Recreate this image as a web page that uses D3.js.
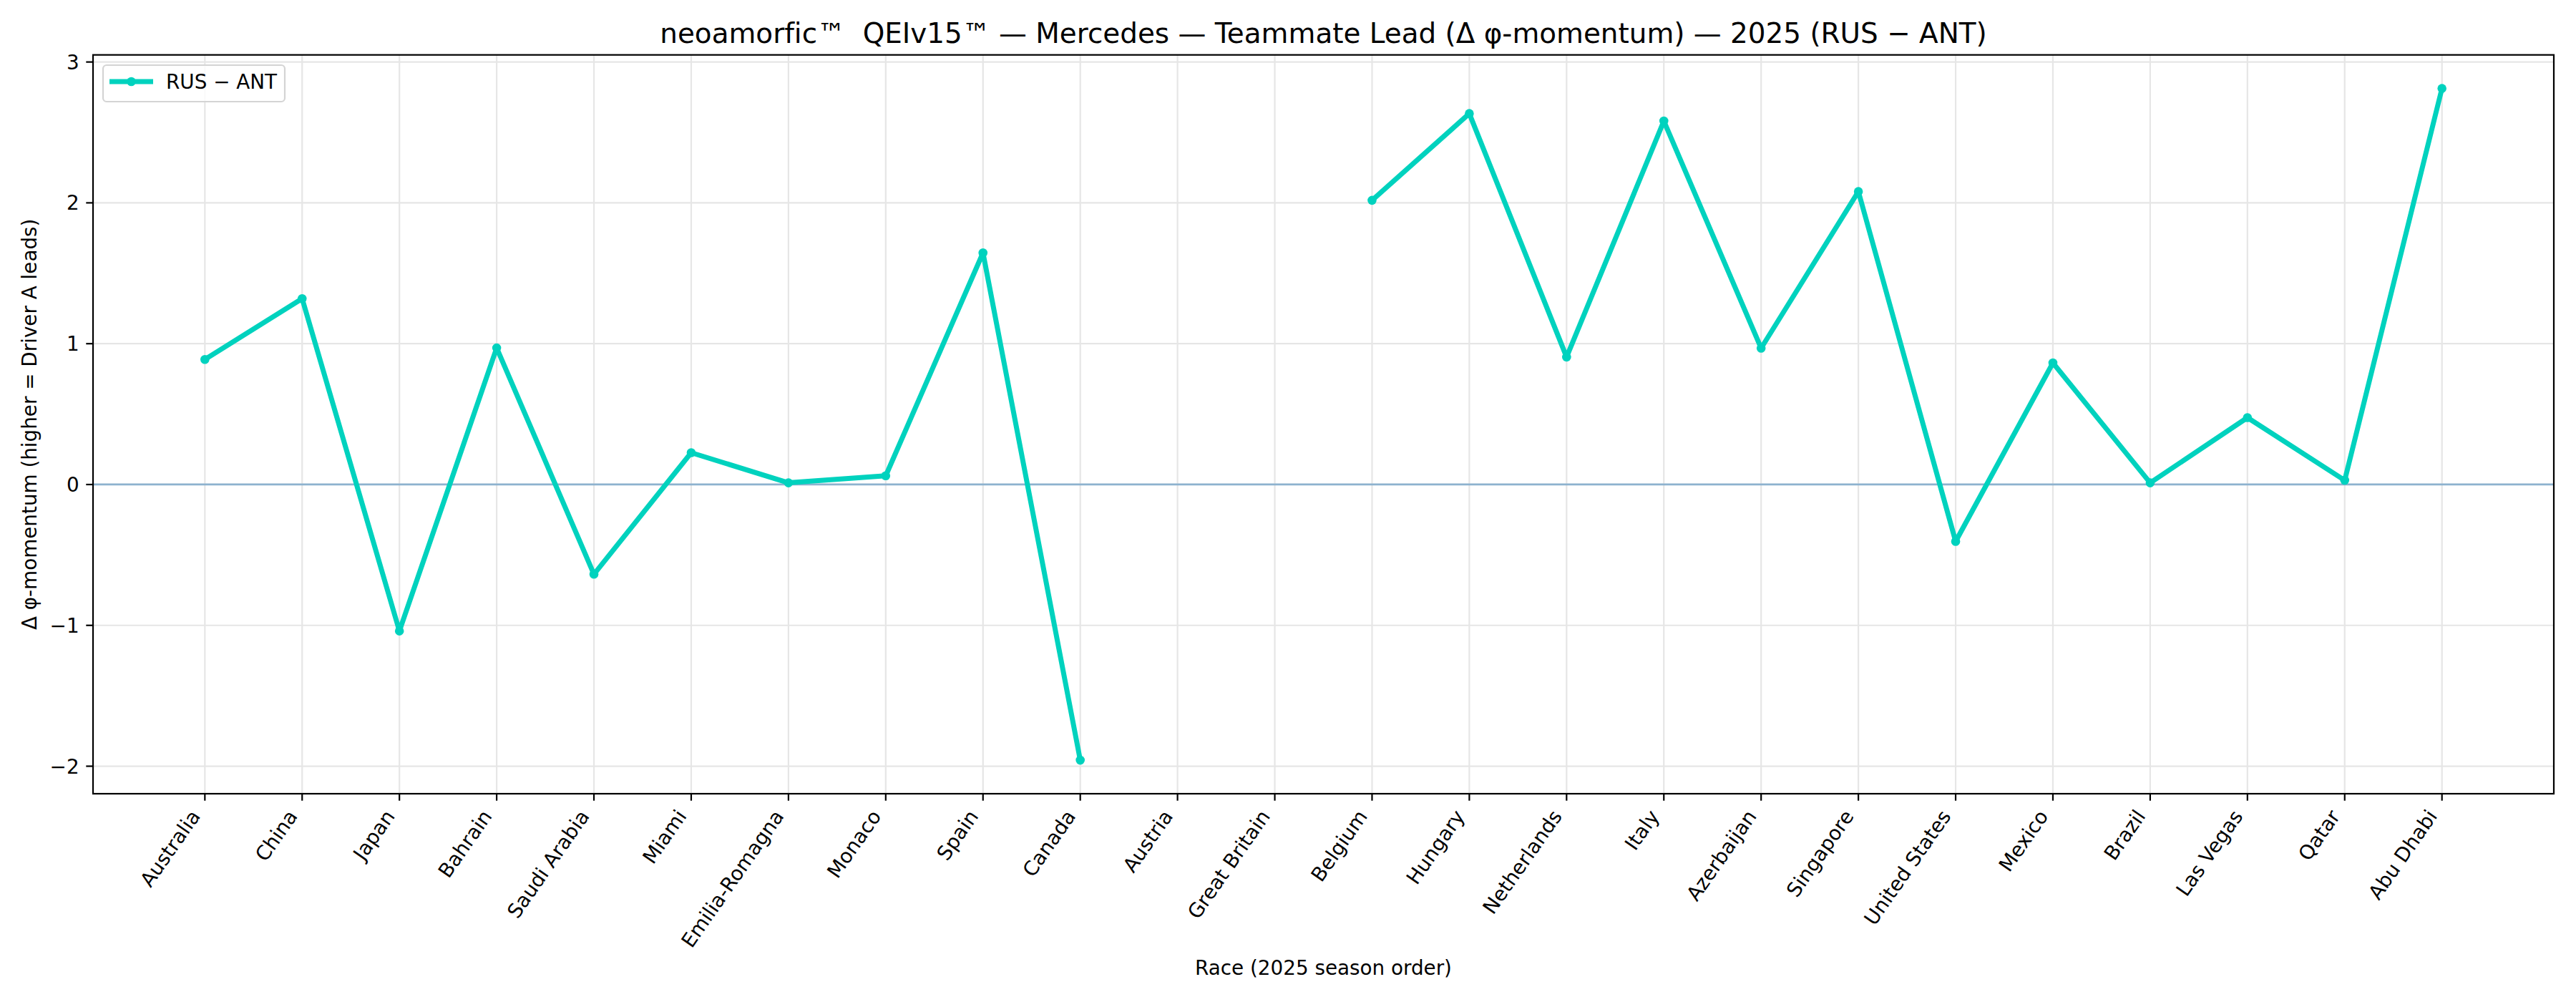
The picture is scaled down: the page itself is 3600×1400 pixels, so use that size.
<!DOCTYPE html>
<html>
<head>
<meta charset="utf-8">
<script src="https://cdn.jsdelivr.net/npm/d3@7"></script>
<style>
  html, body { margin: 0; padding: 0; background: #ffffff; }
  svg { display: block; font-family: "DejaVu Sans", sans-serif; font-variant-ligatures: none; }
  text { white-space: pre; }
</style>
</head>
<body>
<svg id="chart" width="3600" height="1400"></svg>
<script>
const races = ["Australia","China","Japan","Bahrain","Saudi Arabia","Miami","Emilia-Romagna","Monaco","Spain","Canada","Austria","Great Britain","Belgium","Hungary","Netherlands","Italy","Azerbaijan","Singapore","United States","Mexico","Brazil","Las Vegas","Qatar","Abu Dhabi"];
const deltaRusAnt = [0.888,1.320,-1.040,0.970,-0.637,0.226,0.012,0.062,1.645,-1.957,null,null,2.018,2.634,0.905,2.581,0.968,2.080,-0.404,0.864,0.012,0.475,0.030,2.812];
const yTicks = [-2,-1,0,1,2,3];
const seriesName = "RUS \u2212 ANT";
const titleText = "neoamorfic\u2122  QEIv15\u2122 \u2014 Mercedes \u2014 Teammate Lead (\u0394 \u03c6-momentum) \u2014 2025 (RUS \u2212 ANT)";
const xLabel = "Race (2025 season order)";
const yLabel = "\u0394 \u03c6-momentum (higher = Driver A leads)";

const W = 3600, H = 1400;
const plot = {left: 130, right: 3569, top: 76.7, bottom: 1109};
const color = "#00d2be";
const fs = 27.8;

const svg = d3.select("#chart");
svg.append("rect").attr("width", W).attr("height", H).attr("fill", "#fff");

const n = races.length;
const xMargin = (n - 1) * 0.05;
const x = d3.scaleLinear().domain([-xMargin, n - 1 + xMargin]).range([plot.left, plot.right]);
const vals = deltaRusAnt.filter(v => v != null);
const yMin = d3.min(vals), yMax = d3.max(vals);
const yPad = (yMax - yMin) * 0.05;
const y = d3.scaleLinear().domain([yMin - yPad, yMax + yPad]).range([plot.bottom, plot.top]);

const g = svg.append("g");

// grid
g.append("g").selectAll("line").data(d3.range(n)).join("line")
  .attr("x1", d => x(d)).attr("x2", d => x(d))
  .attr("y1", plot.top).attr("y2", plot.bottom)
  .attr("stroke", "#e6e6e6").attr("stroke-width", 2.2);
g.append("g").selectAll("line").data(yTicks).join("line")
  .attr("x1", plot.left).attr("x2", plot.right)
  .attr("y1", d => y(d)).attr("y2", d => y(d))
  .attr("stroke", "#e6e6e6").attr("stroke-width", 2.2);

// zero line
g.append("line")
  .attr("x1", plot.left).attr("x2", plot.right)
  .attr("y1", y(0)).attr("y2", y(0))
  .attr("stroke", "#8db2cf").attr("stroke-width", 2.8);

// data line
const line = d3.line()
  .defined(d => d.v != null)
  .x(d => x(d.i)).y(d => y(d.v));
const pts = deltaRusAnt.map((v, i) => ({i, v}));
g.append("path").datum(pts)
  .attr("d", line)
  .attr("fill", "none").attr("stroke", color)
  .attr("stroke-width", 7).attr("stroke-linejoin", "round").attr("stroke-linecap", "square");
g.append("g").selectAll("circle").data(pts.filter(d => d.v != null)).join("circle")
  .attr("cx", d => x(d.i)).attr("cy", d => y(d.v)).attr("r", 6.3).attr("fill", color);

// spines
g.append("rect")
  .attr("x", plot.left).attr("y", plot.top)
  .attr("width", plot.right - plot.left).attr("height", plot.bottom - plot.top)
  .attr("fill", "none").attr("stroke", "#000").attr("stroke-width", 2.2);

// x ticks
const tickLen = 9.7, pad = 9.7;
const xt = g.append("g");
xt.selectAll("line").data(d3.range(n)).join("line")
  .attr("x1", d => x(d)).attr("x2", d => x(d))
  .attr("y1", plot.bottom).attr("y2", plot.bottom + tickLen)
  .attr("stroke", "#000").attr("stroke-width", 2.2);
const asc = 0.76 * fs, desc = 0.236 * fs;
const th = 55 * Math.PI / 180;
xt.selectAll("text").data(races).join("text")
  .attr("transform", (d, i) => {
    const tx = x(i) - Math.sin(th) * desc;
    const ty = plot.bottom + tickLen + pad + Math.cos(th) * asc;
    return `translate(${tx},${ty}) rotate(-55)`;
  })
  .attr("text-anchor", "end")
  .attr("font-size", fs).attr("fill", "#000")
  .text(d => d);

// y ticks
const yt = g.append("g");
yt.selectAll("line").data(yTicks).join("line")
  .attr("x1", plot.left - tickLen).attr("x2", plot.left)
  .attr("y1", d => y(d)).attr("y2", d => y(d))
  .attr("stroke", "#000").attr("stroke-width", 2.2);
const yfmt = d3.format("d");
yt.selectAll("text").data(yTicks).join("text")
  .attr("x", plot.left - tickLen - pad).attr("y", d => y(d))
  .attr("dy", "0.36em")
  .attr("text-anchor", "end").attr("font-size", fs).attr("fill", "#000")
  .text(d => yfmt(d));

// axis labels
svg.append("text")
  .attr("x", (plot.left + plot.right) / 2).attr("y", 1362)
  .attr("text-anchor", "middle").attr("font-size", fs).attr("fill", "#000")
  .text(xLabel);
svg.append("text")
  .attr("transform", `translate(51,${(plot.top + plot.bottom) / 2}) rotate(-90)`)
  .attr("text-anchor", "middle").attr("font-size", fs).attr("fill", "#000")
  .text(yLabel);

// title
svg.append("text")
  .attr("x", (plot.left + plot.right) / 2).attr("y", 60)
  .attr("text-anchor", "middle").attr("font-size", 38.9).attr("fill", "#000")
  .attr("xml:space", "preserve")
  .text(titleText);

// legend
const lg = svg.append("g");
lg.append("rect")
  .attr("x", 144).attr("y", 91).attr("width", 254).attr("height", 51)
  .attr("rx", 5).attr("ry", 5)
  .attr("fill", "#fff").attr("fill-opacity", 0.8)
  .attr("stroke", "#d4d4d4").attr("stroke-width", 2.2);
lg.append("line")
  .attr("x1", 153).attr("x2", 214).attr("y1", 114).attr("y2", 114)
  .attr("stroke", color).attr("stroke-width", 7);
lg.append("circle").attr("cx", 183.5).attr("cy", 114).attr("r", 6.3).attr("fill", color);
lg.append("text")
  .attr("x", 232).attr("y", 124)
  .attr("font-size", fs).attr("fill", "#000")
  .text(seriesName);
</script>
</body>
</html>
